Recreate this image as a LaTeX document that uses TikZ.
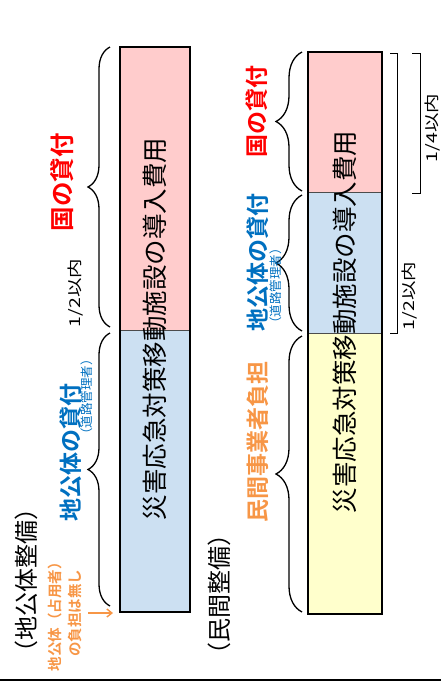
\documentclass[tikz,border=0pt]{standalone}
\usepackage{fontspec}
\setmainfont{Noto Sans CJK JP}[BoldFont={Noto Sans CJK JP Bold}]
\usetikzlibrary{decorations.pathreplacing,arrows.meta}
\definecolor{cred}{RGB}{255,0,0}
\definecolor{cblue}{RGB}{0,112,192}
\definecolor{corange}{RGB}{247,150,70}
\definecolor{fpink}{RGB}{255,204,204}
\definecolor{fblue}{RGB}{204,224,242}
\definecolor{fyellow}{RGB}{255,255,204}
\tikzset{
  rot/.style={rotate=90,inner sep=0pt,anchor=center},
  bartext/.style={rot,font=\fontsize{25.5}{28}\selectfont},
  lbl/.style={rot,font=\bfseries\fontsize{23}{26}\selectfont},
  sublbl/.style={rot,text=cblue,font=\fontsize{12.5}{14}\selectfont},
  frac/.style={rot,font=\fontsize{15}{18}\selectfont},
  hdr/.style={rot,font=\fontsize{24}{26}\selectfont},
  brc/.style={line width=1.3pt,decorate},
  sqb/.style={line width=1pt},
  barframe/.style={line width=1.8pt},
  divider/.style={line width=0.6pt,draw=black!70},
}
\newcommand{\wid}[1]{\scalebox{1.3}[1]{#1}}
\begin{document}
\begin{tikzpicture}[x=1pt,y=-1pt]
\useasboundingbox (0,0) rectangle (441,691);
% left bar
\fill[fpink] (120,47) rectangle (190,330);
\fill[fblue] (120,330) rectangle (190,612);
\draw[divider] (120,330) -- (190,330);
\draw[barframe] (120,47) rectangle (190,612);
\node[bartext] (lbar) at (155,329) {災害応急対策移動施設の導入費用};
% right bar
\fill[fpink] (308,52) rectangle (382,192.5);
\fill[fblue] (308,192.5) rectangle (382,333);
\fill[fyellow] (308,333) rectangle (382,614);
\draw[divider] (308,192.5) -- (382,192.5);
\draw[divider] (308,333) -- (382,333);
\draw[barframe] (308,52) rectangle (382,614);
\node[bartext] (rbar) at (345,322) {災害応急対策移動施設の導入費用};
% left braces
\draw[brc,decoration={brace,amplitude=22pt}] (110,327) -- (110,47);
\draw[brc,decoration={brace,amplitude=22pt}] (110,606) -- (110,333);
% right braces
\draw[brc,decoration={brace,amplitude=26pt}] (302,191) -- (302,52);
\draw[brc,decoration={brace,amplitude=26pt}] (302,331) -- (302,195);
\draw[brc,decoration={brace,amplitude=26pt}] (302,612) -- (302,336);
% square brackets
\draw[sqb] (390,53) -- (397,53) -- (397,333) -- (390,333);
\draw[sqb] (412,53) -- (420,53) -- (420,193) -- (412,193);
% left labels
\node[lbl,text=cred,font=\bfseries\fontsize{24.5}{26}\selectfont] (lkuni) at (62,182) {国の貸付};
\node[frac] (lhalf) at (76,293) {\wid{1/2以内}};
\node[lbl,text=cblue] (lchi) at (71,452) {地公体の貸付};
\node[sublbl] (lsub) at (87,397) {（道路管理者）};
\node[rot,text=corange,align=center,font=\bfseries\fontsize{14.5}{20}\selectfont] (lnone) at (65,613) {地公体（占用者）\\の負担は無し};
\coordinate (arrs) at (88,613);
\coordinate (arre) at (113,613);
\draw[corange,line width=1.4pt,-{Straight Barb[length=5pt,width=8pt]}] (arrs) -- (arre);
\node[hdr] (lhdr) at (26,580) {（地公体整備）};
% right labels
\node[lbl,text=cred] (rkuni) at (257,111) {国の貸付};
\node[lbl,text=cblue] (rchi) at (258,262) {地公体の貸付};
\node[sublbl] (rsub) at (276,286) {（道路管理者）};
\node[lbl,text=corange] (rmin) at (258,442) {民間事業者負担};
\node[hdr] (rhdr) at (219,594) {（民間整備）};
\node[frac] (rhalf) at (410,296) {\wid{1/2以内}};
\node[frac] (rquarter) at (433,128) {\wid{1/4以内}};
% bottom rule
\draw[line width=2.2pt] (0,680) -- (441,680);
\end{tikzpicture}
\end{document}
